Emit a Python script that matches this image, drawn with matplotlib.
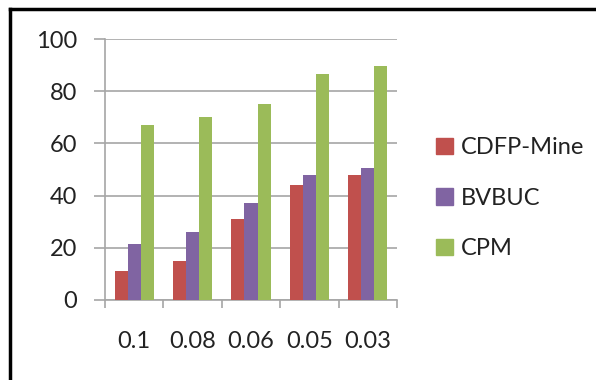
import matplotlib
matplotlib.use("Agg")
import matplotlib.pyplot as plt
import numpy as np
from matplotlib.lines import Line2D

categories = ["0.1", "0.08", "0.06", "0.05", "0.03"]
series_names = ["CDFP-Mine", "BVBUC", "CPM"]
cdfp = [11, 15, 31, 44, 48]
bvbuc = [21.5, 26, 37, 48, 50.5]
cpm = [67, 70, 75, 86.5, 89.5]
colors = ["#C0504D", "#8064A2", "#9BBB59"]

plt.rcParams['font.family'] = ['Lato', 'DejaVu Sans']
fig = plt.figure(figsize=(5.96, 3.8), dpi=100)
ax = fig.add_axes([105/596, 1-300/380, 292/596, 261/380])

x = np.arange(len(categories))
w = 13/58
for i, (vals, name, c) in enumerate(zip([cdfp, bvbuc, cpm], series_names, colors)):
    ax.bar(x + (i-1)*w, vals, width=w, color=c, label=name, zorder=3)

fs = 17
ax.set_xlim(-0.5, len(categories)-0.5)
ax.set_ylim(0, 100)
ax.set_yticks([0, 20, 40, 60, 80, 100])
ax.yaxis.grid(True, color="#A6A6A6", lw=1.2, zorder=0)
for s in ["top", "right"]:
    ax.spines[s].set_visible(False)
for s in ["left", "bottom"]:
    ax.spines[s].set_color("#A6A6A6")
    ax.spines[s].set_linewidth(1.2)
ax.set_xticks(np.arange(len(categories)+1) - 0.5, minor=False)
ax.set_xticklabels([])
ax.set_xticks(x, minor=True)
ax.set_xticklabels(categories, minor=True)
ax.tick_params(axis='x', which='major', length=6, color="#A6A6A6", width=1.2)
ax.tick_params(axis='x', which='minor', length=0, pad=22, labelsize=fs, labelcolor="#222222")
ax.tick_params(axis='y', length=8, color="#A6A6A6", width=1.2, labelsize=fs, labelcolor="#222222", pad=12)

handles = [plt.Rectangle((0, 0), 1, 1, color=c) for c in colors]
fig.legend(handles, series_names, loc="upper left", bbox_to_anchor=(415/596, 1-116/380),
           frameon=False, fontsize=fs, handlelength=0.7, handleheight=0.7,
           handletextpad=0.35, labelspacing=1.25, labelcolor="#222222")

fig.add_artist(Line2D([10/596, 1], [1-9/380, 1-9/380], color="black", lw=2.5, transform=fig.transFigure))
fig.add_artist(Line2D([10/596, 10/596], [0, 1-9/380], color="black", lw=2.5, transform=fig.transFigure))

fig.savefig("out.png", dpi=100)
